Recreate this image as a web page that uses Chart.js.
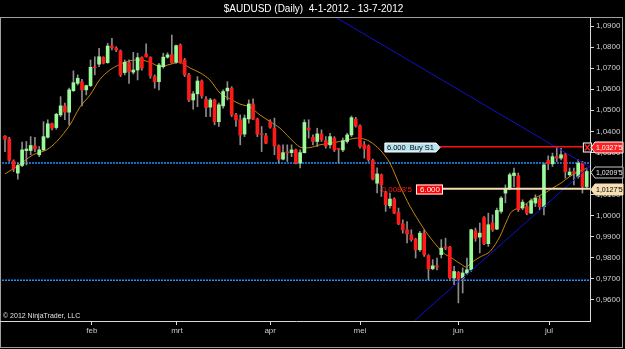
<!DOCTYPE html>
<html>
<head>
<meta charset="utf-8">
<script src="https://cdn.jsdelivr.net/npm/chart.js@4.4.0/dist/chart.umd.min.js"></script>
<style>
  html, body { margin: 0; padding: 0; background: #000; }
</style>
</head>
<body>
<canvas id="chart" width="625" height="349"></canvas>
<script>
/* --------------- Daily candles, 4-1-2012 .. 13-7-2012 --------------------- */
const opens = [1.0377,1.0364,1.0259,1.0202,1.0238,1.0309,1.0309,1.0331,1.0289,1.0312,
  1.0372,1.0436,1.0418,1.0478,1.0521,1.0491,1.0593,1.0628,1.0635,1.0597,
  1.0617,1.0703,1.0719,1.0752,1.0726,1.0805,1.0796,1.0782,1.0679,1.0726,
  1.0681,1.0691,1.0750,1.0767,1.0752,1.0660,1.0636,1.0707,1.0752,1.0764,
  1.0728,1.0810,1.0739,1.0668,1.0549,1.0578,1.0639,1.0553,1.0515,1.0549,
  1.0446,1.0521,1.0592,1.0605,1.0478,1.0455,1.0387,1.0459,1.0530,1.0458,
  1.0385,1.0379,1.0446,1.0415,1.0331,1.0268,1.0299,1.0299,1.0312,1.0249,
  1.0299,1.0416,1.0372,1.0352,1.0388,1.0356,1.0336,1.0368,1.0316,1.0312,
  1.0352,1.0383,1.0458,1.0426,1.0336,1.0331,1.0262,1.0154,1.0194,1.0110,
  1.0047,1.0079,1.0015,0.9961,0.9933,0.9909,0.9889,0.9838,0.9917,0.9810,
  0.9748,0.9762,0.9815,0.9851,0.9851,0.9704,0.9731,0.9704,0.9728,0.9743,
  0.9928,0.9898,0.9991,0.9867,0.9965,0.9936,1.0020,1.0107,1.0126,1.0190,
  1.0190,1.0036,1.0043,1.0012,1.0060,1.0079,1.0043,1.0262,1.0246,1.0280,
  1.0273,1.0289,1.0194,1.0209,1.0186,1.0249,1.0138];
const highs = [1.0380,1.0372,1.0265,1.0249,1.0349,1.0352,1.0375,1.0372,1.0328,1.0446,
  1.0455,1.0439,1.0486,1.0565,1.0534,1.0605,1.0687,1.0668,1.0647,1.0620,
  1.0739,1.0754,1.0794,1.0754,1.0818,1.0842,1.0802,1.0786,1.0739,1.0739,
  1.0775,1.0771,1.0754,1.0815,1.0754,1.0668,1.0723,1.0771,1.0773,1.0857,
  1.0810,1.0815,1.0747,1.0676,1.0589,1.0660,1.0644,1.0565,1.0557,1.0553,
  1.0534,1.0597,1.0636,1.0612,1.0486,1.0478,1.0478,1.0549,1.0554,1.0463,
  1.0423,1.0391,1.0455,1.0463,1.0336,1.0336,1.0336,1.0336,1.0316,1.0312,
  1.0455,1.0455,1.0383,1.0415,1.0407,1.0375,1.0391,1.0375,1.0320,1.0368,
  1.0391,1.0473,1.0467,1.0431,1.0352,1.0336,1.0268,1.0227,1.0198,1.0115,
  1.0107,1.0085,1.0036,0.9980,0.9972,0.9933,0.9893,0.9925,0.9933,0.9815,
  0.9791,0.9799,0.9886,0.9893,0.9854,0.9759,0.9735,0.9752,0.9799,0.9936,
  0.9941,0.9965,0.9996,1.0012,1.0004,1.0036,1.0091,1.0146,1.0202,1.0226,
  1.0202,1.0075,1.0056,1.0080,1.0099,1.0091,1.0249,1.0284,1.0297,1.0325,
  1.0320,1.0297,1.0226,1.0226,1.0265,1.0257,1.0226];
const lows = [1.0304,1.0257,1.0209,1.0173,1.0233,1.0241,1.0289,1.0304,1.0280,1.0308,
  1.0368,1.0407,1.0410,1.0470,1.0455,1.0431,1.0589,1.0620,1.0521,1.0573,
  1.0612,1.0668,1.0707,1.0720,1.0723,1.0786,1.0778,1.0660,1.0668,1.0628,
  1.0672,1.0644,1.0691,1.0752,1.0652,1.0605,1.0597,1.0700,1.0747,1.0723,
  1.0723,1.0723,1.0660,1.0541,1.0505,1.0517,1.0557,1.0470,1.0470,1.0431,
  1.0423,1.0510,1.0549,1.0470,1.0423,1.0336,1.0375,1.0439,1.0455,1.0375,
  1.0304,1.0341,1.0415,1.0289,1.0249,1.0265,1.0257,1.0280,1.0246,1.0226,
  1.0297,1.0368,1.0336,1.0328,1.0352,1.0320,1.0320,1.0304,1.0249,1.0304,
  1.0344,1.0375,1.0420,1.0320,1.0273,1.0257,1.0170,1.0108,1.0091,1.0020,
  1.0036,1.0009,0.9957,0.9917,0.9870,0.9878,0.9799,0.9830,0.9806,0.9696,
  0.9743,0.9743,0.9799,0.9838,0.9699,0.9672,0.9586,0.9633,0.9720,0.9735,
  0.9878,0.9823,0.9862,0.9854,0.9925,0.9933,1.0012,1.0061,1.0123,1.0138,
  1.0020,1.0028,1.0004,1.0009,1.0043,1.0028,1.0004,1.0218,1.0233,1.0257,
  1.0265,1.0178,1.0186,1.0146,1.0178,1.0107,1.0131];
const closes = [1.0363,1.0263,1.0222,1.0238,1.0312,1.0316,1.0333,1.0316,1.0312,1.0375,
  1.0436,1.0415,1.0481,1.0521,1.0491,1.0597,1.0631,1.0652,1.0597,1.0617,
  1.0704,1.0702,1.0754,1.0723,1.0805,1.0797,1.0786,1.0668,1.0728,1.0683,
  1.0691,1.0750,1.0700,1.0754,1.0663,1.0636,1.0715,1.0752,1.0763,1.0726,
  1.0807,1.0726,1.0668,1.0549,1.0578,1.0639,1.0568,1.0513,1.0549,1.0446,
  1.0526,1.0589,1.0605,1.0478,1.0455,1.0383,1.0463,1.0530,1.0458,1.0387,
  1.0384,1.0344,1.0420,1.0331,1.0268,1.0299,1.0298,1.0312,1.0249,1.0299,
  1.0442,1.0407,1.0352,1.0388,1.0360,1.0331,1.0375,1.0312,1.0315,1.0356,
  1.0383,1.0465,1.0426,1.0328,1.0317,1.0265,1.0173,1.0198,1.0146,1.0052,
  1.0079,1.0012,0.9961,0.9933,0.9913,0.9886,0.9838,0.9917,0.9815,0.9747,
  0.9762,0.9756,0.9846,0.9846,0.9704,0.9735,0.9699,0.9728,0.9743,0.9933,
  0.9893,0.9917,0.9867,0.9957,0.9933,1.0025,1.0083,1.0126,1.0194,1.0202,
  1.0028,1.0064,1.0012,1.0071,1.0083,1.0043,1.0241,1.0246,1.0280,1.0273,
  1.0289,1.0209,1.0207,1.0202,1.0249,1.0138,1.02095];

/* --------------- Moving average ------------------------------------------------ */
const maIdx = [0,3.1,6.6,9.7,12.1,15.2,17.5,19.9,22.2,24.5,26.9,29.2,31.6,33.9,36.2,38.6,40.9,43.3,45.6,47.9,
  50.3,52.6,54.9,57.3,59.6,62.0,64.3,66.6,69.0,71.3,73.6,76.0,78.3,80.7,83.0,85.3,87.7,90.0,92.4,94.7,
  97.8,100.1,102.5,104.8,106.8,107.9,109.1,111.1,113.4,115.7,117.3,118.5,121,123.5,126,128,130,132,134,136];
const maVal = [1.0198,1.0238,1.0289,1.0312,1.0352,1.0431,1.0515,1.0573,1.0647,1.0691,1.0718,1.0735,1.0739,1.0728,1.0707,1.0718,1.0728,1.0700,1.0678,1.0644,
  1.0581,1.0554,1.0530,1.0515,1.0478,1.0446,1.0415,1.0368,1.0325,1.0323,1.0336,1.0344,1.0352,1.0363,1.0368,1.0352,1.0312,1.0249,1.0138,1.0044,
  0.9941,0.9878,0.9823,0.9794,0.9767,0.9756,0.9778,0.9804,0.9830,0.9901,0.9975,1.0020,1.0045,1.0080,1.0105,1.0130,1.0155,1.0185,1.0208,1.0225];

/* --------------- Trend lines [startIdx, startPrice, endIdx, endPrice] --------------------- */
const downTrend = [77.6, 1.0938, 136.77, 1.0230];
const upTrend = [95.75, 0.9502, 136.77, 1.0236];
/* --------------- Horizontal lines --------------------- */
const hLevels = [1.0250, 0.9693];
const stopOrder = { price: 1.03275, from: 101.7, to: 135.1, qty: "6.000", name: "Buy S1", label: "1,0327'5" };
const targetOrder = { price: 1.01275, from: 102.4, qty: "6.000", pnl: "-0,0083'5", label: "1,0127'5" };
const lastLabel = "1,0209'5";

/* --------------- Axes --------------------- */
const yTicks = [0.96,0.97,0.98,0.99,1.00,1.01,1.02,1.03,1.04,1.05,1.06,1.07,1.08,1.09];
const monthPos = [20.3, 40.2, 62, 83, 106, 127.2];
const monthLabels = ["feb", "mrt", "apr", "mei", "jun", "jul"];

const X_MIN = -0.7, X_MAX = 136.77;
const font = '"Liberation Sans", Arial, sans-serif';
const idx = closes.map((_, i) => i);
const candleColors = idx.map(i => closes[i] >= opens[i] ? "#98fb98" : "#ff1a1a");

const frame = {
  id: "frame",
  beforeDraw(chart) {
    const { ctx, width, height } = chart;
    ctx.save();
    ctx.fillStyle = "#000";
    ctx.fillRect(0, 0, width, height);
    ctx.restore();
  },
  afterDraw(chart) {
    const { ctx, chartArea } = chart;
    ctx.save();
    ctx.strokeStyle = "#a0a0a0";
    ctx.lineWidth = 1;
    ctx.strokeRect(0.5, 17.5, 622, 330);
    // bottom axis line runs to the left frame edge
    ctx.strokeStyle = "#d8d8d8";
    ctx.beginPath();
    ctx.moveTo(0, Math.round(chartArea.bottom) + 0.5);
    ctx.lineTo(chartArea.left, Math.round(chartArea.bottom) + 0.5);
    ctx.stroke();
    ctx.fillStyle = "#e0e0e0";
    ctx.font = "7px " + font;
    ctx.textBaseline = "alphabetic";
    ctx.fillText("\u00a9 2012 NinjaTrader, LLC", 3, 318);
    ctx.restore();
  }
};

/* --------------- Order boxes and price markers --------------------- */
function priceTag(ctx, x, yc, w, fill, stroke, txtColor, text) {
  const h = 11;
  ctx.beginPath();
  ctx.moveTo(x, yc);
  ctx.lineTo(x + 4, yc - h / 2);
  ctx.lineTo(x + w, yc - h / 2);
  ctx.lineTo(x + w, yc + h / 2);
  ctx.lineTo(x + 4, yc + h / 2);
  ctx.closePath();
  ctx.fillStyle = fill;
  ctx.fill();
  ctx.strokeStyle = stroke;
  ctx.lineWidth = 1;
  ctx.stroke();
  ctx.fillStyle = txtColor;
  ctx.fillText(text, x + 5, yc + 0.5);
}

const orderLabels = {
  id: "orderLabels",
  afterDraw(chart) {
    const { ctx, chartArea } = chart;
    const x = chart.scales.x, y = chart.scales.y;
    ctx.save();
    ctx.font = "7.5px " + font;
    ctx.textBaseline = "middle";
    ctx.textAlign = "left";

    // Buy S1 stop order
    const ys = Math.round(y.getPixelForValue(stopOrder.price)) + 0.5;
    const xs0 = x.getPixelForValue(stopOrder.from);
    const buyText = stopOrder.qty + "  " + stopOrder.name;
    const bw = ctx.measureText(buyText).width + 8;
    ctx.beginPath();
    ctx.moveTo(xs0 - bw, ys - 4.5);
    ctx.lineTo(xs0 - 4, ys - 4.5);
    ctx.lineTo(xs0, ys);
    ctx.lineTo(xs0 - 4, ys + 4.5);
    ctx.lineTo(xs0 - bw, ys + 4.5);
    ctx.closePath();
    ctx.fillStyle = "#b8e4f2";
    ctx.fill();
    ctx.strokeStyle = "#ffffff";
    ctx.stroke();
    ctx.fillStyle = "#000";
    ctx.fillText(buyText, xs0 - bw + 2, ys + 0.5);
    const xs1 = x.getPixelForValue(stopOrder.to);
    ctx.fillStyle = "#000";
    ctx.fillRect(xs1, ys - 4.5, 8, 9);
    ctx.strokeStyle = "#ffffff";
    ctx.strokeRect(xs1 + 0.5, ys - 4.5, 8, 9);
    ctx.strokeStyle = "#ff2020";
    ctx.lineWidth = 1.5;
    ctx.beginPath();
    ctx.moveTo(xs1 + 2, ys - 3); ctx.lineTo(xs1 + 7, ys + 3);
    ctx.moveTo(xs1 + 7, ys - 3); ctx.lineTo(xs1 + 2, ys + 3);
    ctx.stroke();
    ctx.lineWidth = 1;

    ctx.font = "7px " + font;
    priceTag(ctx, chartArea.right + 1, ys, 32, "#ff2020", "#ffffff", "#ffffff", stopOrder.label);
    // last price
    const yl = Math.round(y.getPixelForValue(closes[closes.length - 1])) + 0.5;
    priceTag(ctx, chartArea.right + 1, yl, 32, "#000000", "#c8c8c8", "#e8e8e8", lastLabel);
    // target order
    const yt = Math.round(y.getPixelForValue(targetOrder.price)) + 0.5;
    priceTag(ctx, chartArea.right + 1, yt, 32, "#f5deb3", "#f5deb3", "#000000", targetOrder.label);

    ctx.font = "8px " + font;
    const xt0 = x.getPixelForValue(targetOrder.from);
    ctx.fillStyle = "#ff0000";
    ctx.fillRect(xt0 - 27, yt - 5, 27, 10);
    ctx.strokeStyle = "#ffffff";
    ctx.strokeRect(xt0 - 26.5, yt - 4.5, 26, 9);
    ctx.fillStyle = "#ffffff";
    ctx.fillText(targetOrder.qty, xt0 - 23, yt + 0.5);
    ctx.fillStyle = "#ff1a1a";
    ctx.textAlign = "right";
    ctx.fillText(targetOrder.pnl, xt0 - 31, yt + 0.5);
    ctx.restore();
  }
};

const flat = (p, a, b) => [{ x: a, y: p }, { x: b, y: p }];

new Chart(document.getElementById("chart"), {
  type: "bar",
  plugins: [frame, orderLabels],
  data: {
    datasets: [
      ...hLevels.map(p => ({
        type: "line", data: flat(p, X_MIN, X_MAX), borderColor: "#1e90ff",
        borderWidth: 1.5, borderDash: [2, 1], pointRadius: 0, order: 6
      })),
      {
        type: "line", data: maIdx.map((v, i) => ({ x: v, y: maVal[i] })),
        borderColor: "#c8860a", borderWidth: 1, pointRadius: 0, tension: 0.3, order: 5
      },
      {
        data: idx.map(i => ({ x: i, y: [lows[i], highs[i]] })),
        backgroundColor: "#8c8c8c", barThickness: 1, grouped: false, order: 4
      },
      {
        data: idx.map(i => ({ x: i, y: [Math.min(opens[i], closes[i]), Math.max(opens[i], closes[i])] })),
        backgroundColor: candleColors, barThickness: 3, minBarLength: 1, grouped: false, order: 3
      },
      {
        type: "line", data: [{ x: downTrend[0], y: downTrend[1] }, { x: downTrend[2], y: downTrend[3] }],
        borderColor: "#1010c8", borderWidth: 1, pointRadius: 0, order: 2
      },
      {
        type: "line", data: [{ x: upTrend[0], y: upTrend[1] }, { x: upTrend[2], y: upTrend[3] }],
        borderColor: "#1010c8", borderWidth: 1, pointRadius: 0, order: 2
      },
      {
        type: "line", data: flat(stopOrder.price, stopOrder.from, stopOrder.to),
        borderColor: "#ff1010", borderWidth: 1.5, pointRadius: 0, order: 1
      },
      {
        type: "line", data: flat(targetOrder.price, targetOrder.from, X_MAX),
        borderColor: "#f5deb3", borderWidth: 2, pointRadius: 0, order: 1
      }
    ]
  },
  options: {
    responsive: false,
    animation: false,
    events: [],
    layout: { padding: { left: 2, right: 0, top: 0, bottom: 0 } },
    plugins: {
      legend: { display: false },
      tooltip: { enabled: false },
      title: {
        display: true,
        text: "$AUDUSD (Daily)  4-1-2012 - 13-7-2012",
        color: "#ffffff",
        font: { family: font, size: 10, weight: "normal" },
        padding: { top: 3, bottom: 3 }
      }
    },
    scales: {
      x: {
        type: "linear",
        offset: false,
        min: X_MIN,
        max: X_MAX,
        afterBuildTicks: (axis) => { axis.ticks = monthPos.map(v => ({ value: v })); },
        afterFit: (axis) => { axis.height = 28; },
        ticks: {
          color: "#c8c8c8",
          font: { family: font, size: 8 },
          padding: 1,
          maxRotation: 0,
          autoSkip: false,
          callback: (v, i) => monthLabels[i]
        },
        grid: { offset: false, drawOnChartArea: false, drawTicks: true, tickLength: 4, color: "#d8d8d8" },
        border: { display: true, color: "#d8d8d8" }
      },
      y: {
        type: "linear",
        position: "right",
        min: 0.95,
        max: 1.0938,
        afterBuildTicks: (axis) => { axis.ticks = yTicks.map(v => ({ value: v })); },
        afterFit: (axis) => { axis.width = 35; },
        ticks: {
          color: "#d0d0d0",
          font: { family: font, size: 8 },
          padding: 2,
          callback: (v) => v.toFixed(4).replace(".", ",")
        },
        grid: { drawOnChartArea: false, drawTicks: true, tickLength: 4, color: "#d8d8d8" },
        border: { display: true, color: "#d8d8d8" }
      }
    }
  }
});
</script>
</body>
</html>
